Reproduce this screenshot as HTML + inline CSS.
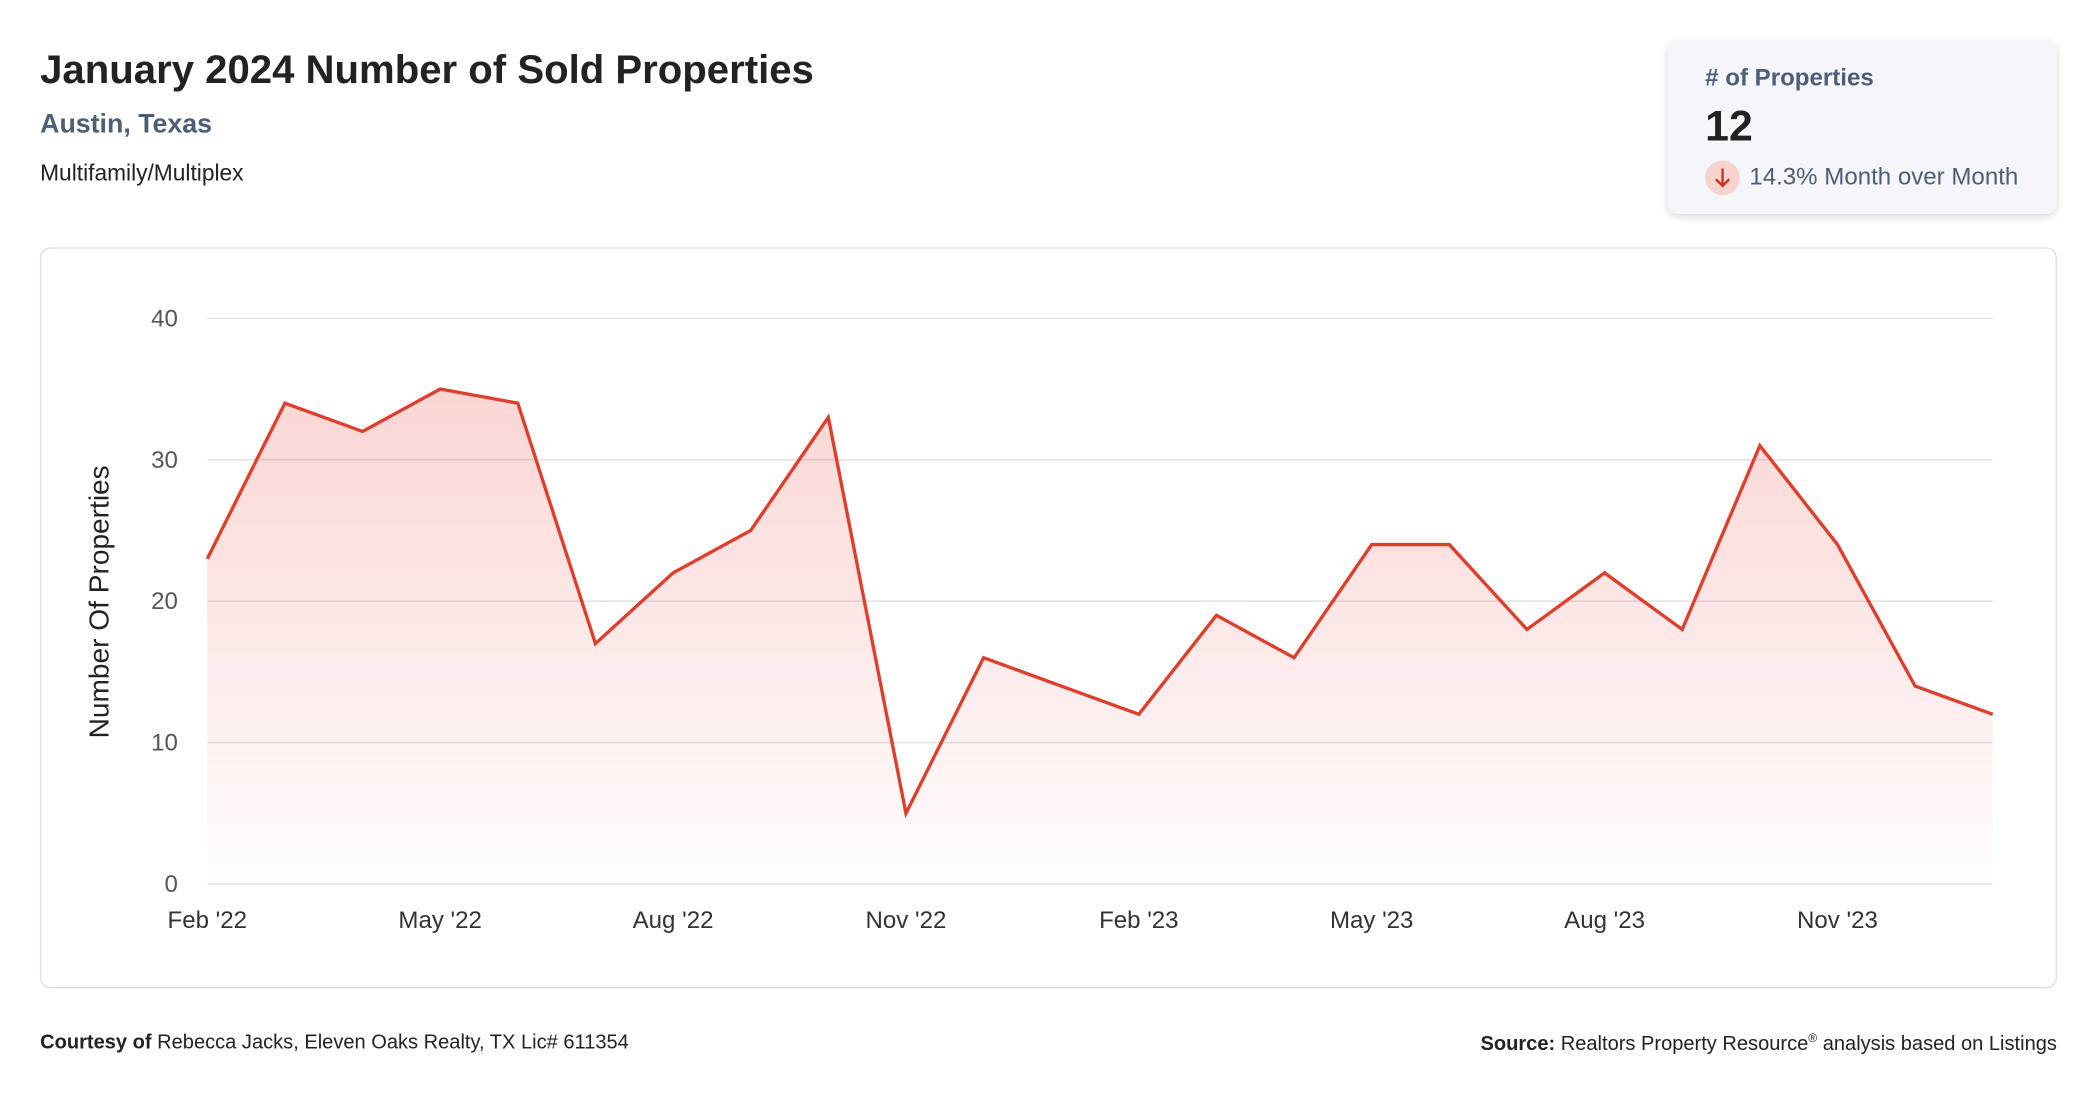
<!DOCTYPE html>
<html><head><meta charset="utf-8"><style>
html,body{margin:0;padding:0;background:#fff;}
body{width:2096px;height:1100px;overflow:hidden;font-family:"Liberation Sans",Arial,sans-serif;}
#wrap{position:absolute;left:0;top:0;width:1567px;height:823px;transform:scale(1.3374);transform-origin:0 0;}
.abs{position:absolute;white-space:nowrap;}
#title{left:30px;top:36px;font-size:30px;font-weight:bold;color:#222;letter-spacing:0px;}
#sub{left:30px;top:82px;font-size:20px;font-weight:bold;color:#4d5d78;}
#type{left:30px;top:120px;font-size:17px;color:#222;}
#card{left:1247px;top:30px;width:291px;height:130px;background:#f4f6fa;border-radius:8px;box-shadow:0 2px 6px rgba(0,0,0,0.15);}
#chartbox{left:30px;top:185px;width:1506px;height:552px;border:1px solid #d9dee8;border-radius:8px;}
.foot{top:771px;font-size:15px;color:#222;}
</style></head><body>
<div id="wrap">
<div class="abs" id="title">January 2024 Number of Sold Properties</div>
<div class="abs" id="sub">Austin, Texas</div>
<div class="abs" id="type">Multifamily/Multiplex</div>
<div class="abs" id="card">
  <div class="abs" style="left:28px;top:18px;font-size:18px;font-weight:bold;color:#4d5d78;"># of Properties</div>
  <div class="abs" style="left:28px;top:46px;font-size:32px;font-weight:bold;color:#222;">12</div>
  <div class="abs" style="left:28px;top:90px;width:26px;height:26px;border-radius:13px;background:#f6d3cd;">
    <svg width="26" height="26"><path d="M13 6 V19 M8 14 L13 19 L18 14" stroke="#c9361f" stroke-width="1.8" fill="none"/></svg>
  </div>
  <div class="abs" style="left:61px;top:92px;font-size:18px;color:#4d5d78;">14.3% Month over Month</div>
</div>
<div class="abs" id="chartbox"></div>
<svg class="abs" id="chart" style="left:0;top:0" width="1567" height="823">
  <defs><linearGradient id="g" x1="0" y1="0" x2="0" y2="1">
    <stop offset="0" stop-color="#e8453c" stop-opacity="0.22"/>
    <stop offset="1" stop-color="#e8453c" stop-opacity="0.01"/>
  </linearGradient></defs>
  <g id="grid"></g><path id="area" fill="url(#g)"/><path id="line" fill="none" stroke="#e03e2d" stroke-width="2.5" stroke-linejoin="miter"/>
  <g id="labels"></g>
  <text x="81" y="450" transform="rotate(-90 81 450)" text-anchor="middle" font-size="21" fill="#222">Number Of Properties</text>
</svg>
<div class="abs foot" style="right:29px;"><b>Source:</b> Realtors Property Resource<sup style="font-size:9px">®</sup> analysis based on Listings</div>
<div class="abs foot" style="left:30px;"><b>Courtesy of</b> Rebecca Jacks, Eleven Oaks Realty, TX Lic# 611354</div>
</div>
<script>
const months = ["Feb '22","Mar '22","Apr '22","May '22","Jun '22","Jul '22","Aug '22","Sep '22","Oct '22","Nov '22","Dec '22","Jan '23","Feb '23","Mar '23","Apr '23","May '23","Jun '23","Jul '23","Aug '23","Sep '23","Oct '23","Nov '23","Dec '23","Jan '24"];
const sold = [23,34,32,35,34,17,22,25,33,5,16,14,12,19,16,24,24,18,22,18,31,24,14,12];
const yTicks = [0,10,20,30,40];
const xLabelIdx = [0,3,6,9,12,15,18,21];
const X0=155,X1=1490,Y0=661,Y1=238,YMAX=40;
const xs=i=>X0+(X1-X0)*i/(months.length-1);
const ys=v=>Y0-(Y0-Y1)*v/YMAX;
const NS="http://www.w3.org/2000/svg";
const grid=document.getElementById('grid'),labels=document.getElementById('labels');
yTicks.forEach(t=>{
  const l=document.createElementNS(NS,'line');
  l.setAttribute('x1',X0);l.setAttribute('x2',X1);l.setAttribute('y1',ys(t));l.setAttribute('y2',ys(t));
  l.setAttribute('stroke','#e3e3e3');l.setAttribute('stroke-width','1.2');
  
  
  grid.appendChild(l);
  const tx=document.createElementNS(NS,'text');
  tx.setAttribute('x',133);tx.setAttribute('y',ys(t)+6);tx.setAttribute('text-anchor','end');
  tx.setAttribute('font-size','18');tx.setAttribute('fill','#555');tx.textContent=t;
  
  
  labels.appendChild(tx);
});
xLabelIdx.forEach(i=>{
  const tx=document.createElementNS(NS,'text');
  tx.setAttribute('x',xs(i));tx.setAttribute('y',694);tx.setAttribute('text-anchor','middle');
  tx.setAttribute('font-size','18');tx.setAttribute('fill','#333');tx.textContent=months[i];
  
  
  labels.appendChild(tx);
});
let d=sold.map((v,i)=>(i?'L':'M')+xs(i)+' '+ys(v)).join(' ');
const line=document.getElementById('line');line.setAttribute('d',d);


const area=document.getElementById('area');
area.setAttribute('d',d+' L'+xs(sold.length-1)+' '+Y0+' L'+X0+' '+Y0+' Z');


</script>
</body></html>
